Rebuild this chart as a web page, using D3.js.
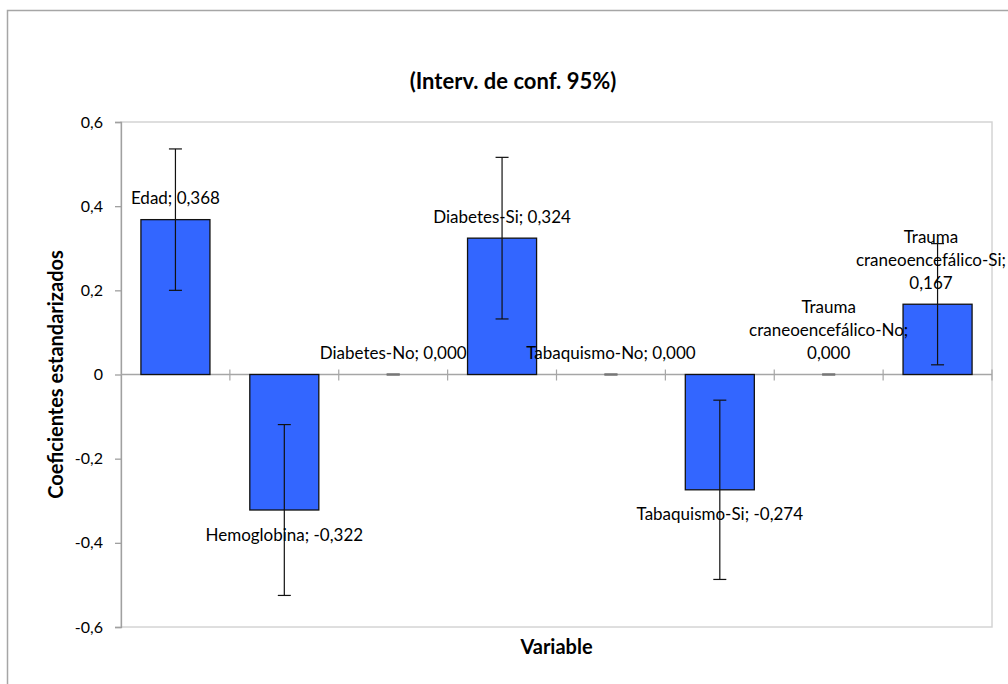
<!DOCTYPE html>
<html>
<head>
<meta charset="utf-8">
<script src="https://cdn.jsdelivr.net/npm/d3@7"></script>
<style>
  html, body { margin: 0; padding: 0; background: #fff; }
  svg { display: block; }
  text { font-family: Lato, "Open Sans", sans-serif; fill: #000; }
</style>
</head>
<body>
<svg id="chart" width="1008" height="684"></svg>
<script>
// ---- Data ----
const categories = ["Edad", "Hemoglobina", "Diabetes-No", "Diabetes-Si",
  "Tabaquismo-No", "Tabaquismo-Si", "Trauma craneoencefálico-No", "Trauma craneoencefálico-Si"];
const values = [0.368, -0.322, 0.000, 0.324, 0.000, -0.274, 0.000, 0.167];
const ciHalfWidths = [0.168, 0.203, 0.000, 0.192, 0.000, 0.213, 0.000, 0.144];
const labelLines = [
  ["Edad; 0,368"],
  ["Hemoglobina; -0,322"],
  ["Diabetes-No; 0,000"],
  ["Diabetes-Si; 0,324"],
  ["Tabaquismo-No; 0,000"],
  ["Tabaquismo-Si; -0,274"],
  ["Trauma", "craneoencefálico-No;", "0,000"],
  ["Trauma", "craneoencefálico-Si;", "0,167"]
];
const yTickValues = [-0.6, -0.4, -0.2, 0, 0.2, 0.4, 0.6];
const titleText = "(Interv. de conf. 95%)";
const xTitle = "Variable";
const yTitle = "Coeficientes estandarizados";

// ---- Layout ----
const svg = d3.select("#chart");
const W = 1008;
const plot = { left: 121, right: 992, top: 122, bottom: 627 };

const x = d3.scaleBand().domain(categories)
  .range([plot.left, plot.right]).paddingInner(0.366).paddingOuter(0.183);
const xCat = d3.scaleBand().domain(categories).range([plot.left, plot.right]).padding(0);
const y = d3.scaleLinear().domain([-0.6, 0.6]).range([plot.bottom, plot.top]);

const locale = d3.formatLocale({ decimal: ",", thousands: ".", grouping: [3], currency: ["", ""], minus: "-" });
const fmtTick = v => v === 0 ? "0" : locale.format(".1f")(v);

// Outer chart border
svg.append("rect").attr("x", 7.5).attr("y", 10.5).attr("width", 1040).attr("height", 700)
  .attr("fill", "none").attr("stroke", "#a6a6a6").attr("stroke-width", 1.5);

// Plot area border (light)
svg.append("rect").attr("x", plot.left).attr("y", plot.top)
  .attr("width", plot.right - plot.left).attr("height", plot.bottom - plot.top)
  .attr("fill", "none").attr("stroke", "#d4d4d4").attr("stroke-width", 1.5);

// Y axis
const yAxis = d3.axisLeft(y).tickValues(yTickValues).tickFormat(fmtTick).tickSize(6).tickPadding(12);
const gy = svg.append("g").attr("transform", `translate(${plot.left},0)`).call(yAxis);
gy.select(".domain").attr("stroke", "#a0a0a0").attr("stroke-width", 1.3);
gy.selectAll(".tick line").attr("stroke", "#a0a0a0").attr("stroke-width", 1.3);
gy.selectAll(".tick text").style("font-size", "16px").style("font-family", "Lato, sans-serif").attr("fill", "#000");

// Zero line with category boundary ticks
svg.append("line").attr("x1", plot.left).attr("x2", plot.right)
  .attr("y1", y(0)).attr("y2", y(0)).attr("stroke", "#a6a6a6").attr("stroke-width", 1.3);
svg.append("g").selectAll("line").data(categories)
  .join("line")
  .attr("x1", d => xCat(d) + xCat.bandwidth())
  .attr("x2", d => xCat(d) + xCat.bandwidth())
  .attr("y1", y(0) - 5).attr("y2", y(0) + 6)
  .attr("stroke", "#a6a6a6").attr("stroke-width", 1.2);

// Bars
svg.append("g").selectAll("rect").data(values).join("rect")
  .attr("x", (d, i) => x(categories[i]))
  .attr("width", x.bandwidth())
  .attr("y", d => y(Math.max(0, d)))
  .attr("height", d => Math.abs(y(d) - y(0)))
  .attr("fill", (d) => d === 0 ? "none" : "#3366ff")
  .attr("stroke", d => d === 0 ? "none" : "#111")
  .attr("stroke-width", 1.3);

// Error bars
const capW = 13;
const eb = svg.append("g");
values.forEach((v, i) => {
  const cx = x(categories[i]) + x.bandwidth() / 2;
  const lo = y(v - ciHalfWidths[i]), hi = y(v + ciHalfWidths[i]);
  const col = ciHalfWidths[i] === 0 ? "#777" : "#111";
  const sw = ciHalfWidths[i] === 0 ? 2 : 1.2;
  eb.append("line").attr("x1", cx).attr("x2", cx).attr("y1", lo).attr("y2", hi)
    .attr("stroke", col).attr("stroke-width", 1.2);
  [lo, hi].forEach(yy => eb.append("line").attr("x1", cx - capW / 2).attr("x2", cx + capW / 2)
    .attr("y1", yy).attr("y2", yy).attr("stroke", col).attr("stroke-width", sw));
});

// Data labels
const lineH = 22.8;
const lab = svg.append("g").style("font-size", "17px");
values.forEach((v, i) => {
  const cx = x(categories[i]) + x.bandwidth() / 2;
  const lines = labelLines[i];
  let centers;
  if (v >= 0) {
    const last = y(v) - 22;
    centers = lines.map((_, k) => last - (lines.length - 1 - k) * lineH);
  } else {
    const first = y(v) + 24;
    centers = lines.map((_, k) => first + k * lineH);
  }
  const g = lab.append("g");
  lines.forEach((t, k) => {
    g.append("text").attr("x", cx).attr("y", centers[k])
      .attr("text-anchor", "middle").attr("dominant-baseline", "central").text(t);
  });
  // keep the whole label inside the picture
  const bb = g.node().getBBox();
  const overflow = bb.x + bb.width - (W - 2);
  if (overflow > 0) g.attr("transform", `translate(${-overflow},0)`);
});

// Title
svg.append("text").attr("x", 513).attr("y", 80).attr("text-anchor", "middle")
  .attr("dominant-baseline", "central")
  .style("font-size", "22px").style("font-weight", "bold").text(titleText);

// Axis titles
svg.append("text").attr("x", (plot.left + plot.right) / 2).attr("y", 646)
  .attr("text-anchor", "middle").attr("dominant-baseline", "central")
  .style("font-size", "20px").style("font-weight", "bold").text(xTitle);
svg.append("text")
  .attr("transform", `translate(55,${(plot.top + plot.bottom) / 2}) rotate(-90)`)
  .attr("text-anchor", "middle").attr("dominant-baseline", "central")
  .style("font-size", "20px").style("font-weight", "bold").text(yTitle);
</script>
</body>
</html>
